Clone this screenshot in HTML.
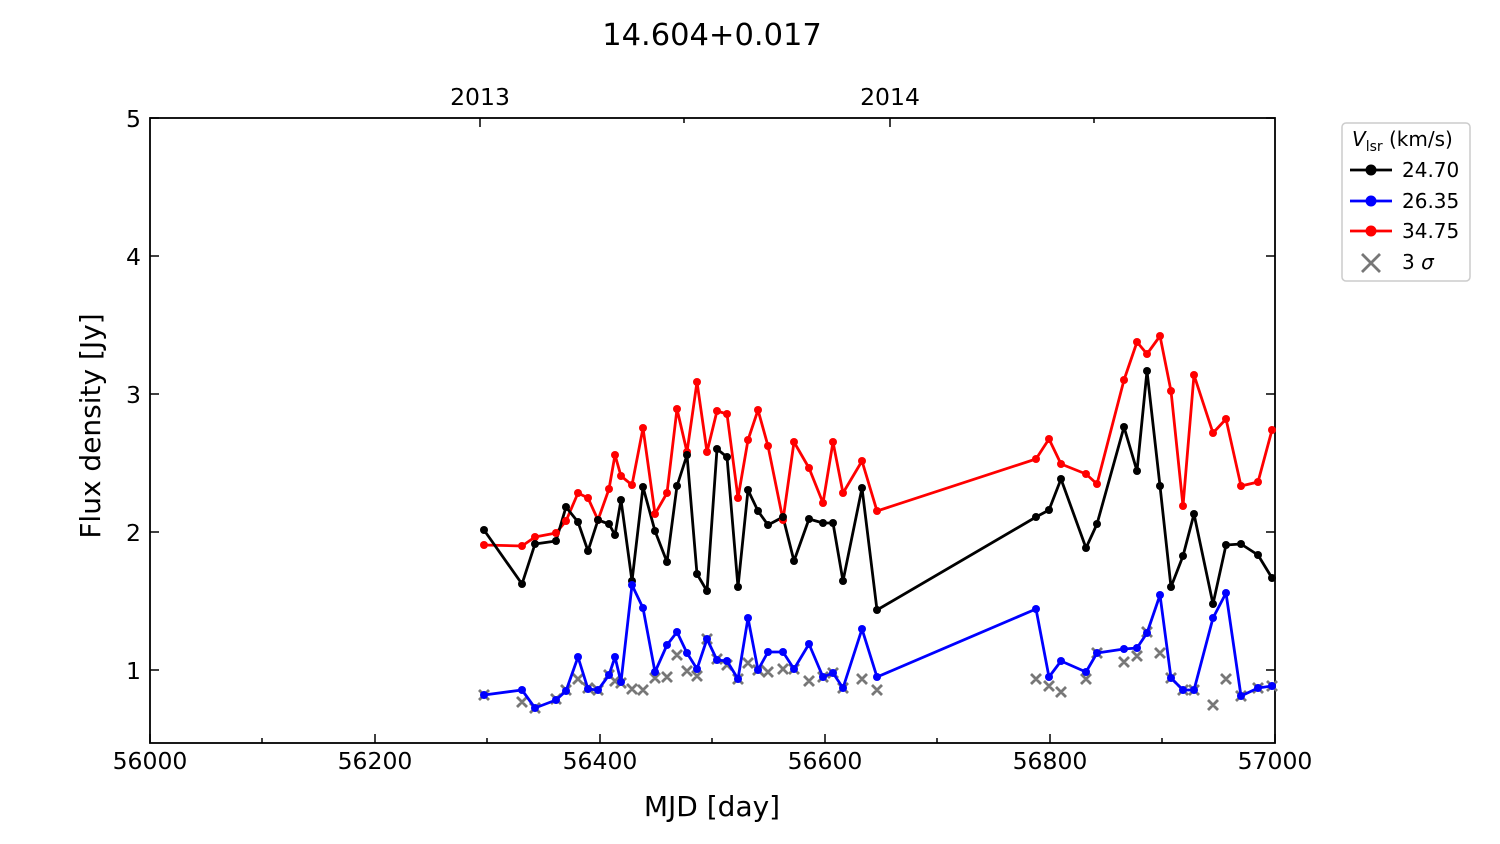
<!DOCTYPE html>
<html><head><meta charset="utf-8"><style>body{margin:0;background:#fff}svg{display:block}</style></head><body>
<svg width="1500" height="844" xmlns="http://www.w3.org/2000/svg" font-family="DejaVu Sans, Liberation Sans, sans-serif">
<rect width="1500" height="844" fill="#fff"/>
<text x="712" y="45" font-size="30.5" text-anchor="middle">14.604+0.017</text>
<rect x="150" y="118" width="1125" height="625" fill="none" stroke="#000" stroke-width="1.8"/>
<g stroke="#000" stroke-width="1.5">
<path d="M150,743v-9M375,743v-9M600,743v-9M825,743v-9M1050,743v-9M1275,743v-9"/>
<path d="M262,743v-5M487,743v-5M712,743v-5M937,743v-5M1162,743v-5"/>
<path d="M150,118h9M150,256h9M150,394h9M150,532h9M150,670h9"/>
<path d="M1275,118h-9M1275,256h-9M1275,394h-9M1275,532h-9M1275,670h-9"/>
<path d="M480,118v9M890,118v9M684,118v5M1094,118v5"/>
</g>
<g font-size="23.5" text-anchor="middle">
<text x="150" y="769">56000</text><text x="375" y="769">56200</text><text x="600" y="769">56400</text><text x="825" y="769">56600</text><text x="1050" y="769">56800</text><text x="1275" y="769">57000</text>
<text x="480" y="105">2013</text><text x="890" y="105">2014</text>
</g>
<g font-size="23.5" text-anchor="end">
<text x="141" y="127">5</text><text x="141" y="265">4</text><text x="141" y="403">3</text><text x="141" y="541">2</text><text x="141" y="679">1</text>
</g>
<text x="712" y="816" font-size="28" text-anchor="middle">MJD [day]</text>
<text transform="translate(100,426) rotate(-90)" font-size="28" text-anchor="middle">Flux density [Jy]</text>
<g id="cr" stroke="#777" stroke-width="2.8" fill="none"></g>
<polyline id="red" fill="none" stroke="#f00" stroke-width="2.8" stroke-linejoin="round"/>
<polyline id="blk" fill="none" stroke="#000" stroke-width="2.8" stroke-linejoin="round"/>
<polyline id="blu" fill="none" stroke="#00f" stroke-width="2.8" stroke-linejoin="round"/>
<g id="dots"></g>
<rect x="1342" y="123" width="128" height="158" rx="4" fill="#fff" stroke="#ccc" stroke-width="1.5"/>
<text x="1352" y="146" font-size="20"><tspan font-style="italic">V</tspan><tspan font-size="14" dy="5">lsr</tspan><tspan dy="-5"> (km/s)</tspan></text>
<g stroke-width="2.8"><path d="M1350,170h42" stroke="#000"/><path d="M1350,201h42" stroke="#00f"/><path d="M1350,231h42" stroke="#f00"/><path d="M1362,254l18,18M1380,254l-18,18" stroke="#777"/></g>
<circle cx="1371" cy="170" r="5.5" fill="#000"/><circle cx="1371" cy="201" r="5.5" fill="#00f"/><circle cx="1371" cy="231" r="5.5" fill="#f00"/>
<g font-size="20"><text x="1402" y="177">24.70</text><text x="1402" y="208">26.35</text><text x="1402" y="238">34.75</text><text x="1402" y="269">3 <tspan font-style="italic">σ</tspan></text></g>
<script>
const xs=[484,522,535,556,566,578,588,598,609,615,621,632,643,655,667,677,687,697,707,717,727,738,748,758,768,783,794,809,823,833,843,862,877,1036,1049,1061,1086,1097,1124,1137,1147,1160,1171,1183,1194,1213,1226,1241,1258,1272];
const R=[545,546,537,533,521,493,498,520,489,455,476,485,428,514,493,409,452,382,452,411,414,498,440,410,446,520,442,468,503,442,493,461,511,459,439,464,474,484,380,342,354,336,391,506,375,433,419,486,482,430];
const K=[530,584,544,541,507,522,551,520,524,535,500,581,487,531,562,486,455,574,591,449,457,587,490,511,525,517,561,519,523,523,581,488,610,517,510,479,548,524,427,471,371,486,587,556,514,604,545,544,555,578];
const B=[695,690,708,700,691,657,689,690,675,657,682,585,608,672,645,632,653,669,639,660,661,679,618,670,652,652,669,644,677,673,688,629,677,609,677,661,672,653,649,648,633,595,678,690,690,618,593,696,688,686];
const C=[695,702,708,699,690,679,688,690,675,681,683,689,690,678,677,655,671,676,639,659,665,679,663,670,672,669,669,681,677,673,688,679,690,679,686,692,679,653,662,656,632,653,678,690,690,705,679,696,688,686];
const ns="http://www.w3.org/2000/svg";
let cr=document.getElementById('cr'),d='';
xs.forEach((x,i)=>{const y=C[i];d+=`M${x-5},${y-5}l10,10M${x+5},${y-5}l-10,10`;});
let p=document.createElementNS(ns,'path');p.setAttribute('d',d);cr.appendChild(p);
const dots=document.getElementById('dots');
[['red',R,'#f00'],['blk',K,'#000'],['blu',B,'#00f']].forEach(([id,Y,c])=>{
document.getElementById(id).setAttribute('points',xs.map((x,i)=>x+','+Y[i]).join(' '));
xs.forEach((x,i)=>{let e=document.createElementNS(ns,'circle');e.setAttribute('cx',x);e.setAttribute('cy',Y[i]);e.setAttribute('r',4);e.setAttribute('fill',c);dots.appendChild(e);});
});
</script>
</svg>
</body></html>
